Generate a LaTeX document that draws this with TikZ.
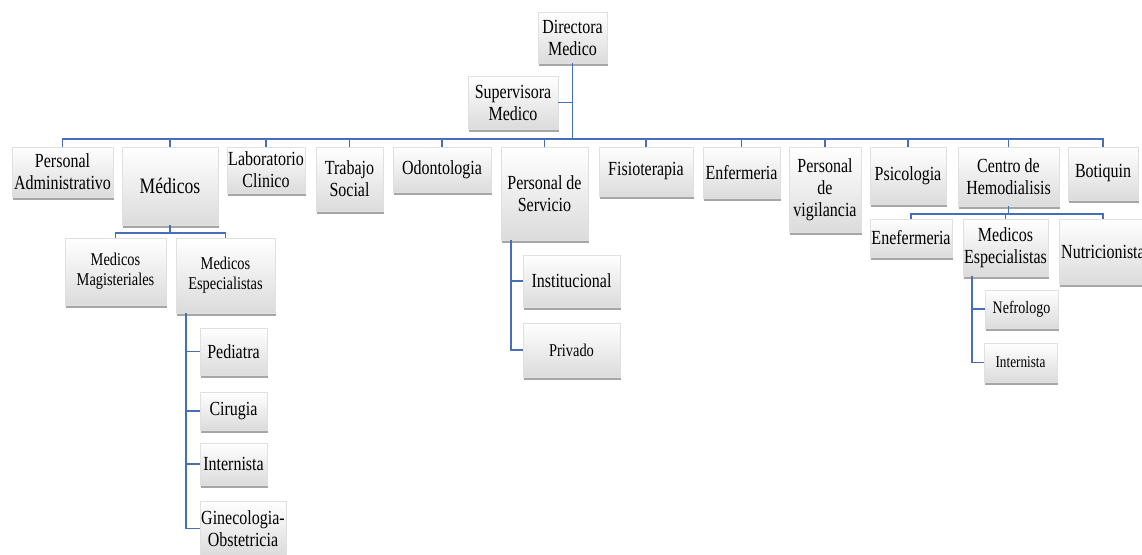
\documentclass[tikz,border=0pt]{standalone}
\usepackage{fontspec}
\setmainfont[FakeStretch=0.8]{Liberation Serif}
\usetikzlibrary{shadows}
\definecolor{linkblue}{RGB}{70,110,185}
\newcommand{\fs}[1]{\fontsize{#1}{\numexpr#1+2\relax}\selectfont}
\tikzset{
  box/.style={draw=black!12, line width=0.4pt, shading=axis,
    top color=white, middle color=white, bottom color=black!14,
    drop shadow={shadow xshift=1pt, shadow yshift=-3pt, fill=black, opacity=0.35},
    align=center, inner sep=1pt, font=\fontsize{20}{22}\selectfont},
  wh/.style 2 args={minimum width=#1pt, minimum height=#2pt},
  link/.style={draw=linkblue, line width=1.4pt}
}
\begin{document}
\begin{tikzpicture}[x=1pt, y=-1pt]
\useasboundingbox (0,0) rectangle (1142,554);

% top of the chart
\node[box, wh={69}{51}] (dir) at (572.5,37.5) {Directora\\Medico};
\node[box, wh={90}{53}] (sup) at (513,102.5) {Supervisora\\Medico};

% first level
\node[box, wh={101}{50}] (padm) at (62.5,172) {Personal\\Administrativo};
\node[box, wh={96}{78}, font=\fontsize{22}{24}\selectfont] (med) at (170,186) {Médicos};
\node[box, wh={78}{46}] (lab) at (266,170) {Laboratorio\\Clinico};
\node[box, wh={67}{64}] (tsoc) at (349.5,179) {Trabajo\\Social};
\node[box, wh={98}{45}] (odon) at (442,169.5) {Odontologia};
\node[box, wh={87}{93}] (pserv) at (544.5,193.5) {Personal de\\Servicio};
\node[box, wh={94}{49}] (fisio) at (646,171.5) {Fisioterapia};
\node[box, wh={77}{51}] (enf) at (741.5,172.5) {Enfermeria};
\node[box, wh={72}{85}] (pvig) at (825,189.5) {Personal\\de\\vigilancia};
\node[box, wh={76}{57}] (psi) at (908,175.5) {Psicologia};
\node[box, wh={101}{59}] (chem) at (1008.5,176.5) {Centro de\\Hemodialisis};
\node[box, wh={70}{53}] (bot) at (1103,173.5) {Botiquin};

% under Médicos
\node[box, wh={101}{67}, font=\fontsize{18}{20}\selectfont] (mmag) at (115.5,271.5) {Medicos\\Magisteriales};
\node[box, wh={99}{75}, font=\fontsize{18}{20}\selectfont] (mesp) at (225.5,275.5) {Medicos\\Especialistas};
\node[box, wh={67}{47}] (ped) at (233.5,351.5) {Pediatra};
\node[box, wh={67}{38}] (cir) at (233.5,411) {Cirugia};
\node[box, wh={67}{42}] (intA) at (233.5,464) {Internista};
\node[box, wh={84}{55}] (gin) at (243,528.5) {Ginecologia-\\Obstetricia};

% under Personal de Servicio
\node[box, wh={97}{52}] (inst) at (571.5,281) {Institucional};
\node[box, wh={97}{54}, font=\fontsize{18}{20}\selectfont] (priv) at (571.5,350) {Privado};

% under Centro de Hemodialisis
\node[box, wh={82}{38}] (enef) at (911,238) {Enefermeria};
\node[box, wh={85}{57}] (mesp2) at (1005.5,247.5) {Medicos\\Especialistas};
\node[box, wh={88}{65}] (nutr) at (1103,251.5) {Nutricionista};
\node[box, wh={73}{38}, font=\fontsize{17.5}{19}\selectfont] (nef) at (1021.5,309) {Nefrologo};
\node[box, wh={73}{39}, font=\fontsize{16.5}{18}\selectfont] (intB) at (1020.5,362.5) {Internista};

% connectors
\coordinate (bus) at (572.5,139);
\coordinate (medbus) at (170,233);
\coordinate (chembus) at (1008.5,214);
\draw[link] (dir) -- (bus);
\draw[link] (sup) -- (sup -| bus);
\foreach \n in {padm,med,lab,tsoc,odon,pserv,fisio,enf,pvig,psi,chem,bot}
  \draw[link] (bus) -| (\n);
\draw[link] (med) -- (medbus);
\foreach \n in {mmag,mesp}
  \draw[link] (medbus) -| (\n);
\draw[link] (chem) -- (chembus);
\foreach \n in {enef,mesp2,nutr}
  \draw[link] (chembus) -| (\n);
\foreach \n in {ped,cir,intA,gin}
  \draw[link] ([xshift=10pt]mesp.south west) |- (\n);
\foreach \n in {inst,priv}
  \draw[link] ([xshift=10pt]pserv.south west) |- (\n);
\foreach \n in {nef,intB}
  \draw[link] ([xshift=9pt]mesp2.south west) |- (\n);
\end{tikzpicture}
\end{document}
